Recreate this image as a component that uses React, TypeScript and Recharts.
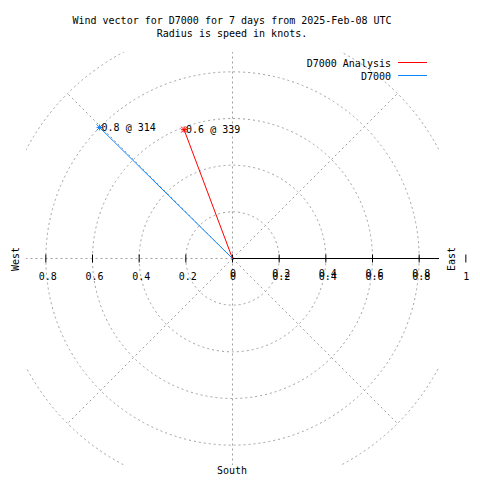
import React from 'react';
import { ComposedChart, Scatter, XAxis, YAxis, ReferenceLine, ReferenceDot, Customized } from 'recharts';

const titleLines = ['Wind vector for D7000 for 7 days from 2025-Feb-08 UTC', 'Radius is speed in knots.'];
const seriesNames = ['D7000 Analysis', 'D7000'];
const seriesColors = ['#ff0000', '#0a84ff'];
const speeds = [0.59, 0.8];
const directions = [339.4, 314.6];
const ringRadii = [0.2, 0.4, 0.6, 0.8, 1.0];
const spokeAngles = [0, 45, 90, 135, 180, 225, 270, 315];
const tickValues = [-0.8, -0.6, -0.4, -0.2, 0, 0.2, 0.4, 0.6, 0.8, 1];
const tickLabels = ['0.8', '0.6', '0.4', '0.2', '0', '0.2', '0.4', '0.6', '0.8', '1'];
const sideLabels = { west: 'West', east: 'East', south: 'South' };

const FONT = "'DejaVu Sans Mono', 'Liberation Mono', monospace";
const GRID = '#a0a0a0';
const DOM = 0.885;

const rad = (d: number) => (d * Math.PI) / 180;

const vectorData = seriesNames.map((name, i) => [
  { x: 0, y: 0 },
  {
    x: speeds[i] * Math.sin(rad(directions[i])),
    y: speeds[i] * Math.cos(rad(directions[i])),
    tip: true,
    label: `${speeds[i].toFixed(1)} @ ${Math.floor(directions[i])}`,
  },
]);

const makeTipShape = (color: string) => (p: any) => {
  if (!p.payload || !p.payload.tip) return <g />;
  const { cx, cy } = p;
  const s = 3;
  return (
    <g>
      <line x1={cx - s} y1={cy} x2={cx + s} y2={cy} stroke={color} strokeWidth={1} />
      <line x1={cx} y1={cy - s} x2={cx} y2={cy + s} stroke={color} strokeWidth={1} />
      <line x1={cx - s} y1={cy - s} x2={cx + s} y2={cy + s} stroke={color} strokeWidth={1} />
      <line x1={cx - s} y1={cy + s} x2={cx + s} y2={cy - s} stroke={color} strokeWidth={1} />
      <text x={cx + 2} y={cy} dy="0.35em" fontFamily={FONT} fontSize={10} fill="#000">
        {p.payload.label}
      </text>
    </g>
  );
};

const ringShape = (p: any) => (
  <circle
    cx={p.x1}
    cy={p.y1}
    r={Math.abs(p.x2 - p.x1)}
    fill="none"
    stroke={GRID}
    strokeWidth={1}
    strokeDasharray="2 3"
    clipPath={p.clipPath}
  />
);

const makeTickShape = (label: string, value: number) => (p: any) => {
  const { cx, cy } = p;
  const dx = label.length > 1 ? 2 : 0.5;
  const doubled = value >= 0 && value < 1;
  return (
    <g>
      <line x1={cx} y1={cy - 4} x2={cx} y2={cy + 4} stroke="#000" strokeWidth={1} />
      <text x={cx + dx} y={cy + 17.5} dy="0.35em" textAnchor="middle" fontFamily={FONT} fontSize={10} fill="#000">
        {label}
      </text>
      {doubled && (
        <text x={cx + dx} y={cy + 14.5} dy="0.35em" textAnchor="middle" fontFamily={FONT} fontSize={10} fill="#000">
          {label}
        </text>
      )}
    </g>
  );
};

const Decorations = () => (
  <g fontFamily={FONT} fontSize={10} fill="#000">
    <text x={232} y={20} dy="0.35em" textAnchor="middle">{titleLines[0]}</text>
    <text x={232} y={33} dy="0.35em" textAnchor="middle">{titleLines[1]}</text>
    {seriesNames.map((n, i) => (
      <g key={n}>
        <text x={391} y={63 + i * 13} dy="0.35em" textAnchor="end">{n}</text>
        <line x1={398} y1={62.5 + i * 13} x2={427} y2={62.5 + i * 13} stroke={seriesColors[i]} strokeWidth={1} />
      </g>
    ))}
    <text x={15} y={259} dy="0.35em" textAnchor="middle" transform="rotate(-90 15 259)">{sideLabels.west}</text>
    <text x={451} y={259} dy="0.35em" textAnchor="middle" transform="rotate(-90 451 259)">{sideLabels.east}</text>
    <text x={232} y={470} dy="0.35em" textAnchor="middle">{sideLabels.south}</text>
  </g>
);

export default function App() {
  return (
    <div style={{ position: 'absolute', left: 0, top: 0, width: 480, height: 480, background: '#fff' }}>
      <ComposedChart width={480} height={480} margin={{ top: 52, right: 41, bottom: 15, left: 26 }}>
        <XAxis type="number" dataKey="x" domain={[-DOM, DOM]} allowDataOverflow hide />
        <YAxis type="number" dataKey="y" domain={[-DOM, DOM]} allowDataOverflow hide />
        {ringRadii.map((r) => (
          <ReferenceLine
            key={`ring-${r}`}
            segment={[{ x: 0, y: 0 }, { x: r, y: 0 }]}
            ifOverflow="hidden"
            shape={ringShape}
          />
        ))}
        {spokeAngles.map((a) => (
          <ReferenceLine
            key={`spoke-${a}`}
            segment={[
              { x: 0, y: 0 },
              { x: Math.round(Math.cos(rad(a)) * 1e6) / 1e6, y: Math.round(Math.sin(rad(a)) * 1e6) / 1e6 },
            ]}
            ifOverflow="hidden"
            stroke={GRID}
            strokeWidth={1}
            strokeDasharray="2 3"
          />
        ))}
        <ReferenceLine segment={[{ x: 0, y: 0 }, { x: 1, y: 0 }]} ifOverflow="hidden" stroke="#000" strokeWidth={1} />
        {tickValues.map((v, i) => (
          <ReferenceDot
            key={`tick-${v}`}
            x={v}
            y={0}
            ifOverflow="visible"
            shape={makeTickShape(tickLabels[i], v)}
          />
        ))}
        {seriesNames.map((n, i) => (
          <Scatter
            key={n}
            name={n}
            data={vectorData[i]}
            fill={seriesColors[i]}
            line={{ stroke: seriesColors[i], strokeWidth: 1 }}
            lineType="joint"
            shape={makeTipShape(seriesColors[i])}
            isAnimationActive={false}
          />
        ))}
        <Customized component={<Decorations />} />
      </ComposedChart>
    </div>
  );
}
